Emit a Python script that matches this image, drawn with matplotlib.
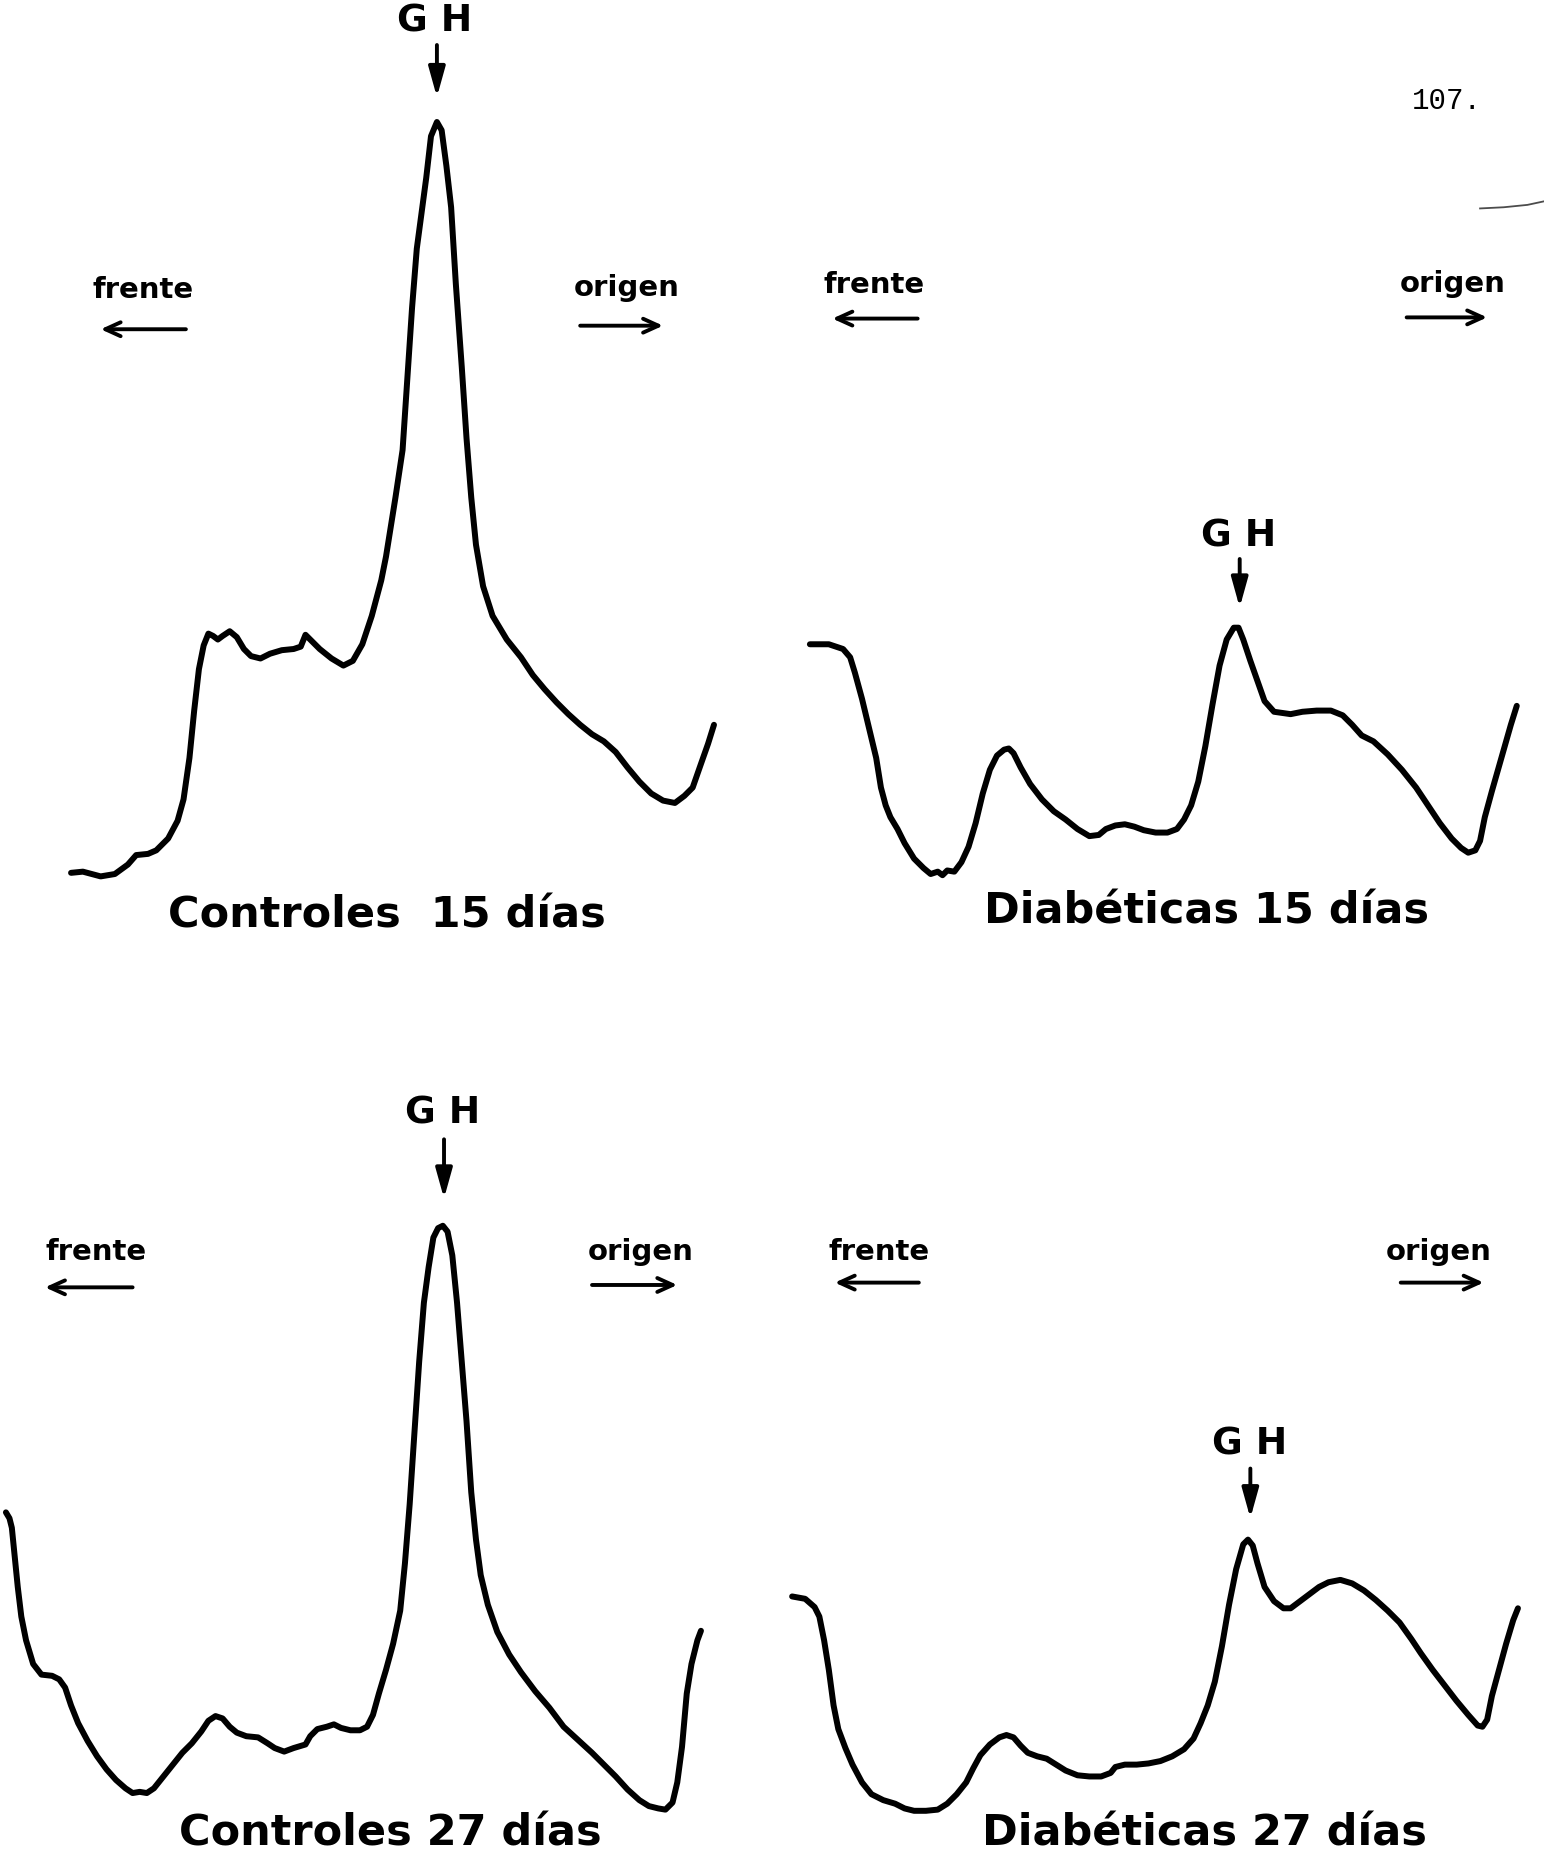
import matplotlib
matplotlib.use("Agg")
import matplotlib.pyplot as plt

plt.rcParams['font.family'] = ['DejaVu Sans']

# ---- Densitometer traces (migration position, trace reading) ----
c15_pos = [60, 70, 85, 97, 108, 115, 125, 132, 142, 150, 155, 160, 164, 168, 172, 176, 180, 184, 188,
           194, 200, 206, 212, 220, 228, 238, 248, 254, 258, 262, 270, 280, 290, 298, 306, 314, 322,
           326, 330, 334, 340, 344, 348, 352, 356, 360, 364, 369, 373, 377, 381, 385, 390, 394, 398,
           402, 408, 416, 428, 440, 450, 460, 470, 480, 490, 500, 510, 520, 530, 540, 550, 560, 570,
           578, 585, 592, 598, 603]
c15_val = [737, 736, 740, 738, 730, 722, 721, 718, 708, 693, 675, 640, 600, 565, 545, 535, 537, 540, 537,
           533, 538, 548, 554, 556, 552, 549, 548, 546, 536, 540, 548, 556, 562, 558, 544, 520, 490,
           470, 445, 420, 380, 320, 260, 210, 180, 150, 115, 103, 110, 140, 175, 240, 310, 370, 420,
           460, 495, 520, 540, 555, 570, 582, 593, 603, 612, 620, 626, 635, 648, 660, 670, 676, 678,
           672, 665, 645, 628, 612]

d15_pos = [684, 700, 712, 718, 722, 728, 734, 740, 744, 748, 752, 758, 764, 772, 780, 786, 792, 796, 800,
           806, 812, 818, 824, 830, 836, 842, 848, 852, 856, 862, 870, 880, 890, 900, 910, 920, 928,
           934, 942, 950, 958, 966, 976, 986, 994, 1000, 1006, 1012, 1018, 1024, 1030, 1036, 1042,
           1046, 1050, 1056, 1062, 1068, 1076, 1090, 1100, 1112, 1124, 1134, 1142, 1150, 1160, 1172,
           1184, 1196, 1206, 1216, 1226, 1234, 1240, 1246, 1250, 1254, 1260, 1268, 1276, 1281]
d15_val = [544, 544, 548, 555, 568, 590, 615, 640, 665, 680, 690, 700, 712, 725, 733, 738, 736, 739, 735,
           736, 728, 715, 695, 670, 650, 638, 633, 632, 636, 648, 662, 675, 685, 692, 700, 706, 705,
           700, 697, 696, 698, 701, 703, 703, 700, 692, 680, 660, 630, 595, 562, 540, 530,
           530, 540, 558, 575, 592, 601, 603, 601, 600, 600, 604, 612, 621, 626, 637,
           650, 665, 680, 695, 708, 716, 720, 718, 710, 690, 668, 640, 612, 596]

c27_pos = [5, 8, 10, 12, 15, 18, 22, 28, 35, 44, 50, 55, 60, 66, 74, 82, 90, 98, 106, 112, 118, 124, 130,
           138, 146, 154, 162, 170, 176, 182, 188, 194, 200, 208, 218, 226, 232, 240, 248, 258, 262,
           268, 276, 282, 288, 296, 304, 310, 315, 320, 326, 332, 338, 342, 346, 350, 354, 358, 362,
           366, 370, 374, 378, 382, 386, 390, 394, 398, 402, 406, 412, 420, 430, 440, 452, 464, 476,
           488, 500, 510, 520, 530, 540, 548, 556, 562, 568, 572, 576, 580, 584, 589, 592]
c27_val = [1277, 1282, 1290, 1310, 1340, 1365, 1385, 1405, 1414, 1415, 1418, 1425, 1440, 1455, 1470, 1483,
           1494, 1503, 1510, 1514, 1513, 1514, 1510, 1500, 1490, 1480, 1472, 1462, 1453, 1449, 1451,
           1458, 1463, 1466, 1467, 1472, 1476, 1479, 1476, 1473, 1466, 1460, 1458, 1456, 1459, 1461,
           1461, 1458, 1448, 1430, 1410, 1388, 1360, 1320, 1270, 1210, 1150, 1100, 1070, 1045, 1037,
           1035, 1040, 1060, 1100, 1150, 1200, 1260, 1300, 1330, 1355, 1378, 1397, 1412, 1428, 1442,
           1458, 1469, 1480, 1490, 1500, 1511, 1520, 1525, 1527, 1528, 1522, 1505, 1475, 1430, 1405,
           1385, 1377]

d27_pos = [669, 680, 688, 692, 696, 700, 704, 708, 714, 720, 728, 736, 746, 756, 764, 772, 782, 792, 800,
           808, 816, 822, 828, 836, 844, 850, 856, 862, 868, 876, 884, 892, 900, 910, 920, 930, 938,
           942, 950, 960, 970, 980, 990, 1000, 1008, 1014, 1020, 1026, 1032, 1038, 1044, 1050, 1054,
           1058, 1062, 1068, 1076, 1084, 1090, 1098, 1106, 1114, 1122, 1132, 1142, 1152, 1162, 1172,
           1182, 1192, 1200, 1210, 1220, 1230, 1240, 1248, 1252, 1256, 1260, 1266, 1272, 1278, 1282]
d27_val = [1348, 1350, 1357, 1365, 1385, 1410, 1440, 1460, 1476, 1490, 1505, 1515, 1520, 1523, 1527, 1529,
           1529, 1528, 1523, 1515, 1505, 1493, 1482, 1473, 1467, 1465, 1467, 1474, 1480, 1483, 1485,
           1490, 1495, 1499, 1500, 1500, 1497, 1492, 1490, 1490, 1489, 1487, 1483, 1477, 1468, 1455,
           1440, 1420, 1390, 1355, 1325, 1304, 1300, 1305, 1320, 1340, 1352, 1358, 1358, 1352, 1346,
           1340, 1336, 1334, 1337, 1343, 1351, 1360, 1370, 1384, 1396, 1410, 1423, 1436, 1448, 1457,
           1458, 1452, 1432, 1410, 1388, 1368, 1358]

panel_titles = ["Controles  15 días", "Diabéticas 15 días", "Controles 27 días", "Diabéticas 27 días"]
page_number = "107."
peak_label = "G H"
left_label = "frente"
right_label = "origen"

# ---- Figure ----
fig = plt.figure(figsize=(15.44, 18.57), dpi=100)
ax = fig.add_axes([0, 0, 1, 1])
ax.set_xlim(0, 1304)
ax.set_ylim(1568, 0)
ax.axis('off')

LW = 4.3
for xs, ys in [(c15_pos, c15_val), (d15_pos, d15_val), (c27_pos, c27_val), (d27_pos, d27_val)]:
    ax.plot(xs, ys, color='black', lw=LW, solid_capstyle='round', solid_joinstyle='round')

title_kw = dict(fontsize=31, fontweight='bold', color='black', ha='center', va='center')
ax.text(327, 773, panel_titles[0], **title_kw)
ax.text(1019, 770, panel_titles[1], **title_kw)
ax.text(330, 1548, panel_titles[2], **title_kw)
ax.text(1017, 1548, panel_titles[3], **title_kw)

ax.text(1222, 85, page_number, fontsize=21, family='Liberation Mono', ha='center', va='center')
# small stray pen mark at the right edge of the page
ax.plot([1250, 1270, 1290, 1304], [176, 175, 173, 170], color='black', lw=1.3, alpha=0.7)

gh_kw = dict(fontsize=27, fontweight='bold', ha='center', va='center')
arrow_down = dict(arrowstyle='-|>,head_length=0.9,head_width=0.25', lw=2.8, color='black',
                  shrinkA=0, shrinkB=0, mutation_scale=20)
for (tx, ty), (x0, y0, y1) in [((367, 18), (369, 38, 82)), ((1046, 453), (1047, 472, 513)),
                               ((374, 940), (375, 962, 1012)), ((1055, 1220), (1056, 1240, 1282))]:
    ax.text(tx, ty, peak_label, **gh_kw)
    ax.annotate('', xy=(x0, y1), xytext=(x0, y0), arrowprops=arrow_down)

side_kw = dict(fontsize=21, fontweight='bold', ha='center', va='center')
arrow_side = dict(arrowstyle='->,head_length=0.55,head_width=0.25', lw=2.8, color='black',
                  shrinkA=0, shrinkB=0, mutation_scale=20)
labels = [
    (left_label, (121, 245), (157, 278), (85, 278)),
    (right_label, (529, 243), (490, 275), (560, 275)),
    (left_label, (738, 241), (775, 269), (703, 269)),
    (right_label, (1227, 240), (1188, 268), (1256, 268)),
    (left_label, (81, 1057), (112, 1087), (38, 1087)),
    (right_label, (541, 1057), (500, 1085), (572, 1085)),
    (left_label, (742, 1057), (776, 1083), (705, 1083)),
    (right_label, (1215, 1057), (1183, 1083), (1253, 1083)),
]
for txt, tpos, a0, a1 in labels:
    ax.text(tpos[0], tpos[1], txt, **side_kw)
    ax.annotate('', xy=a1, xytext=a0, arrowprops=arrow_side)

fig.savefig('out.png', dpi=100, facecolor='white')
